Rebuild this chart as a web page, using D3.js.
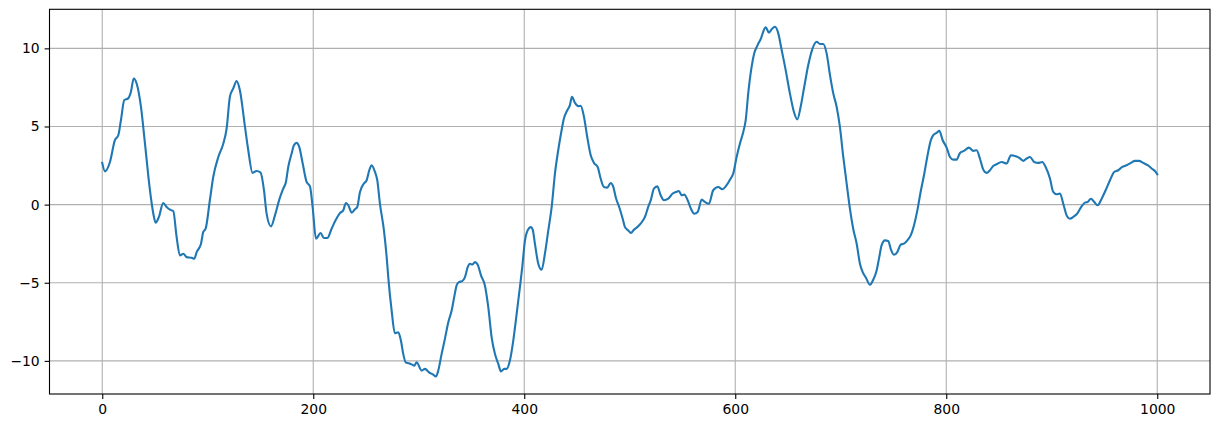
<!DOCTYPE html>
<html>
<head>
<meta charset="utf-8">
<script src="https://cdn.jsdelivr.net/npm/d3@7"></script>
<style>
  html, body { margin: 0; padding: 0; background: #fff; }
  svg { display: block; }
  text { font-family: "DejaVu Sans", sans-serif; }
</style>
</head>
<body>
<svg id="chart" width="1221" height="428"></svg>
<script>
// Values (x index, signal value)
const xValues = [0, 2.6, 7.3, 12, 15.2, 17.7, 20.9, 24.6, 27.2, 29.8, 32.6, 36.7, 40.5, 45.2, 48.4, 50.6, 53.7, 57.8, 61, 64.2, 67.3, 70.5, 73.6, 76.8, 80, 84.7, 87.2, 89.5, 93.6, 95.7, 98, 102, 105.2, 110, 114.7, 117.9, 121, 124.2, 127.4, 130.5, 135.3, 138.4, 142.5, 146.3, 150.1, 153.3, 155.8, 159.9, 163.7, 167.8, 171.6, 174.1, 176.3, 179.5, 181.7, 184.2, 186.7, 190, 193.7, 196.9, 199.4, 202.6, 207, 210.1, 213.3, 217.4, 221.5, 225.3, 228.4, 231, 233.2, 236.4, 239.5, 241.7, 244.3, 248, 250.6, 253.1, 255.3, 258.5, 260.7, 263.2, 267, 269.6, 271.1, 274.3, 277.4, 280.6, 283.1, 285.3, 287.6, 290.7, 293.8, 295.7, 298, 302.7, 305.9, 309.7, 313.7, 316.3, 318.5, 321.7, 324.8, 328, 331.2, 333.6, 335.9, 338.1, 341.2, 343.8, 346.4, 348.5, 350.7, 353.3, 355.8, 359, 362.7, 365.9, 369.1, 372.2, 375.4, 377.9, 381, 383.3, 386.4, 389.6, 392.8, 395.9, 398.1, 400.7, 403.2, 406.3, 408, 410.1, 413.3, 416.5, 419.6, 422.8, 426, 429.1, 432.2, 435.4, 437.6, 440.8, 443.3, 445.2, 448.1, 451.2, 453.5, 456.6, 459.7, 463, 466.1, 469.6, 472.4, 475.5, 478.7, 481.9, 484.4, 486.9, 490, 493.3, 495.5, 498.6, 501.1, 504, 507.1, 510.3, 514.4, 517.5, 520.1, 522.9, 526.1, 529.3, 532.4, 536.5, 540.7, 543.8, 546.6, 549.2, 551.7, 554.9, 558, 561.1, 564.4, 568.2, 571.3, 575.1, 579.1, 583.9, 587.7, 591.8, 595, 598.1, 601.3, 604.4, 607.6, 609.9, 612.3, 615.5, 618, 621.2, 624.4, 626.5, 628.8, 632, 634.5, 637.6, 640.8, 644, 647.8, 651.8, 655.6, 658.8, 662, 665.4, 669.2, 673, 677.2, 680.3, 683.4, 686.6, 689.8, 692.9, 696.1, 699.2, 702.4, 705.6, 708.7, 711.8, 715.1, 718.2, 720.8, 723.9, 727.7, 730.8, 734, 736.5, 738.7, 741.9, 745, 747.6, 750.4, 753.6, 756.8, 759.9, 763.1, 766.3, 769.4, 772.6, 775.7, 778.9, 782, 785.2, 787.7, 790.9, 793.4, 796.6, 800.4, 803.5, 806.7, 809.9, 813, 816.8, 821.5, 825.6, 828.8, 831.9, 835.1, 838.3, 841.4, 844.5, 847.7, 852.5, 857.2, 861.3, 865.8, 868.9, 873, 876.2, 879.3, 883.4, 887.2, 891, 894.2, 898.3, 901.4, 904.6, 907.8, 910.9, 914.1, 917.2, 920.4, 924.5, 928.3, 931.5, 934, 937.1, 940.3, 943.5, 947.3, 951.1, 955.2, 959.2, 963, 966.8, 971, 975, 978.9, 982.7, 986.7, 990.9, 994.7, 998.5, 1000];
const yValues = [2.67, 2.13, 2.73, 4.12, 4.44, 5.4, 6.69, 6.8, 7.22, 8.07, 7.75, 6.26, 3.9, 0.92, -0.58, -1.15, -0.79, 0.1, -0.15, -0.32, -0.41, -2.08, -3.25, -3.14, -3.36, -3.4, -3.46, -3.04, -2.5, -1.76, -1.54, 0.28, 1.77, 3.05, 3.9, 4.87, 6.9, 7.44, 7.9, 7.3, 4.97, 3.48, 2.03, 2.15, 2.05, 0.92, -0.58, -1.39, -0.69, 0.32, 1.03, 1.45, 2.41, 3.27, 3.8, 3.95, 3.69, 2.63, 1.45, 1.17, -0.15, -2.18, -1.82, -2.14, -2.14, -1.54, -0.96, -0.54, -0.37, 0.1, -0.04, -0.51, -0.3, -0.15, 0.81, 1.35, 1.56, 2.2, 2.52, 2.09, 1.56, 0.06, -1.65, -3.36, -4.64, -6.78, -8.23, -8.17, -8.7, -9.55, -10.09, -10.15, -10.24, -10.3, -10.09, -10.62, -10.51, -10.73, -10.88, -11.0, -10.62, -9.55, -8.59, -7.53, -6.78, -5.92, -5.17, -4.96, -4.9, -4.64, -4.0, -3.78, -3.83, -3.68, -3.83, -4.53, -5.17, -6.56, -8.49, -9.55, -10.19, -10.67, -10.51, -10.51, -9.98, -8.7, -6.99, -5.28, -4.0, -2.29, -1.65, -1.44, -1.6, -2.5, -3.78, -4.17, -3.14, -1.65, -0.15, 1.99, 3.48, 4.76, 5.51, 6.04, 6.37, 6.9, 6.51, 6.3, 6.32, 5.62, 4.33, 3.16, 2.67, 2.41, 1.67, 1.13, 1.09, 1.38, 1.13, 0.42, -0.15, -0.9, -1.44, -1.65, -1.82, -1.6, -1.44, -1.22, -0.79, -0.15, 0.32, 1.03, 1.17, 0.6, 0.28, 0.38, 0.71, 0.81, 0.87, 0.6, 0.64, 0.28, -0.26, -0.58, -0.47, 0.32, 0.17, 0.06, 0.92, 1.13, 0.98, 1.24, 1.6, 1.99, 3.05, 3.9, 4.65, 5.4, 7.12, 8.82, 9.68, 10.21, 10.64, 11.06, 11.35, 11.0, 11.22, 11.38, 10.96, 9.89, 8.61, 7.12, 5.94, 5.45, 6.26, 7.54, 8.93, 9.94, 10.42, 10.28, 10.28, 9.68, 8.29, 7.12, 6.26, 4.97, 3.05, 1.35, -0.26, -1.54, -2.5, -3.78, -4.32, -4.68, -5.13, -4.81, -4.21, -3.36, -2.61, -2.29, -2.33, -2.88, -3.21, -3.04, -2.56, -2.5, -2.29, -1.97, -1.33, -0.37, 0.81, 1.88, 3.05, 4.08, 4.44, 4.59, 4.72, 4.12, 3.65, 3.05, 2.88, 2.88, 3.31, 3.44, 3.65, 3.44, 3.48, 2.95, 2.24, 2.03, 2.2, 2.47, 2.58, 2.73, 2.63, 3.16, 3.1, 3.01, 2.8, 2.95, 3.05, 2.73, 2.67, 2.73, 2.41, 1.67, 0.81, 0.66, 0.71, 0.06, -0.69, -0.9, -0.79, -0.54, -0.11, 0.13, 0.17, 0.38, 0.17, -0.04, 0.38, 0.92, 1.56, 2.09, 2.2, 2.41, 2.52, 2.67, 2.8, 2.8, 2.67, 2.52, 2.31, 2.09, 1.94];
const xTicks = [0, 200, 400, 600, 800, 1000];
const yTicks = [-10, -5, 0, 5, 10];

const svg = d3.select("#chart");
const plotLeft = 49.5, plotRight = 1210, plotTop = 9.3, plotBottom = 394;

const xMin = d3.min(xValues), xMax = d3.max(xValues);
const yMin = d3.min(yValues), yMax = d3.max(yValues);
const xPad = (xMax - xMin) * 0.05, yPad = (yMax - yMin) * 0.05;

const x = d3.scaleLinear().domain([xMin - xPad, xMax + xPad]).range([plotLeft, plotRight]);
const y = d3.scaleLinear().domain([yMin - yPad, yMax + yPad]).range([plotBottom, plotTop]);

const fmt = d => (d < 0 ? "\u2212" + Math.abs(d) : String(d));

// grid
const grid = svg.append("g");
grid.selectAll("line.gx").data(xTicks).enter().append("line")
  .attr("x1", d => x(d)).attr("x2", d => x(d)).attr("y1", plotTop).attr("y2", plotBottom)
  .attr("stroke", "#b0b0b0").attr("stroke-width", 1.1);
grid.selectAll("line.gy").data(yTicks).enter().append("line")
  .attr("y1", d => y(d)).attr("y2", d => y(d)).attr("x1", plotLeft).attr("x2", plotRight)
  .attr("stroke", "#b0b0b0").attr("stroke-width", 1.1);

// line
const pts = xValues.map((v, i) => [v, yValues[i]]);
svg.append("path")
  .datum(pts)
  .attr("fill", "none")
  .attr("stroke", "#1f77b4")
  .attr("stroke-width", 2.1)
  .attr("stroke-linejoin", "round")
  .attr("stroke-linecap", "square")
  .attr("d", d3.line().x(d => x(d[0])).y(d => y(d[1])).curve(d3.curveMonotoneX));

// axes
const xAxis = d3.axisBottom(x).tickValues(xTicks).tickFormat(fmt).tickSize(4.9).tickPadding(4.9);
const yAxis = d3.axisLeft(y).tickValues(yTicks).tickFormat(fmt).tickSize(4.9).tickPadding(4.9);

const gx = svg.append("g").attr("transform", `translate(0,${plotBottom})`).call(xAxis);
const gy = svg.append("g").attr("transform", `translate(${plotLeft},0)`).call(yAxis);
[gx, gy].forEach(g => {
  g.select(".domain").remove();
  g.selectAll(".tick line").attr("stroke", "#000").attr("stroke-width", 1.1);
  g.selectAll(".tick text").attr("fill", "#000").style("font-size", "13.9px").style("font-family", "DejaVu Sans");
});

// frame
svg.append("rect")
  .attr("x", plotLeft).attr("y", plotTop).attr("width", plotRight - plotLeft).attr("height", plotBottom - plotTop)
  .attr("fill", "none").attr("stroke", "#000").attr("stroke-width", 1.1);
</script>
</body>
</html>
